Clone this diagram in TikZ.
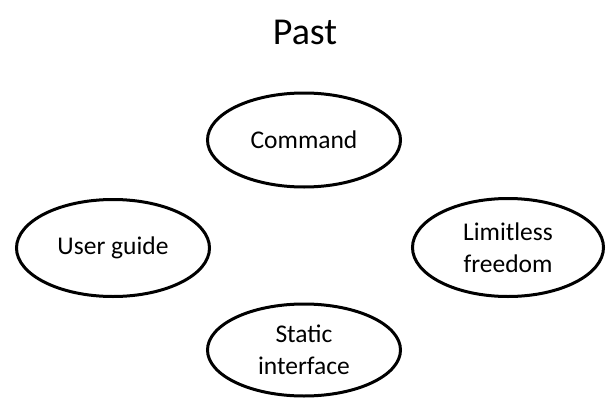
\documentclass[tikz,border=0pt]{standalone}
\usepackage{fontspec}
\setmainfont{Carlito}
\usetikzlibrary{shapes.geometric}
\begin{document}
\begin{tikzpicture}[x=1pt,y=-1pt,
  oval/.style={draw=black,line width=3pt,ellipse,inner sep=0pt,align=center,
    font=\fontsize{25.5}{31.5}\selectfont}]
\useasboundingbox (0,0) rectangle (608,399);
\node[font=\fontsize{38}{46}\selectfont] (title) at (305,32) {Past};
\node[oval,minimum width=193pt,minimum height=94pt] (command) at (304,140) {Command};
\node[oval,minimum width=193pt,minimum height=97pt] (user) at (113,248) {User guide};
\node[oval,minimum width=191pt,minimum height=98pt] (free) at (508,247.5) {Limitless\\freedom};
\node[oval,minimum width=193pt,minimum height=92pt] (static) at (304,350) {Static\\interface};
\end{tikzpicture}
\end{document}
